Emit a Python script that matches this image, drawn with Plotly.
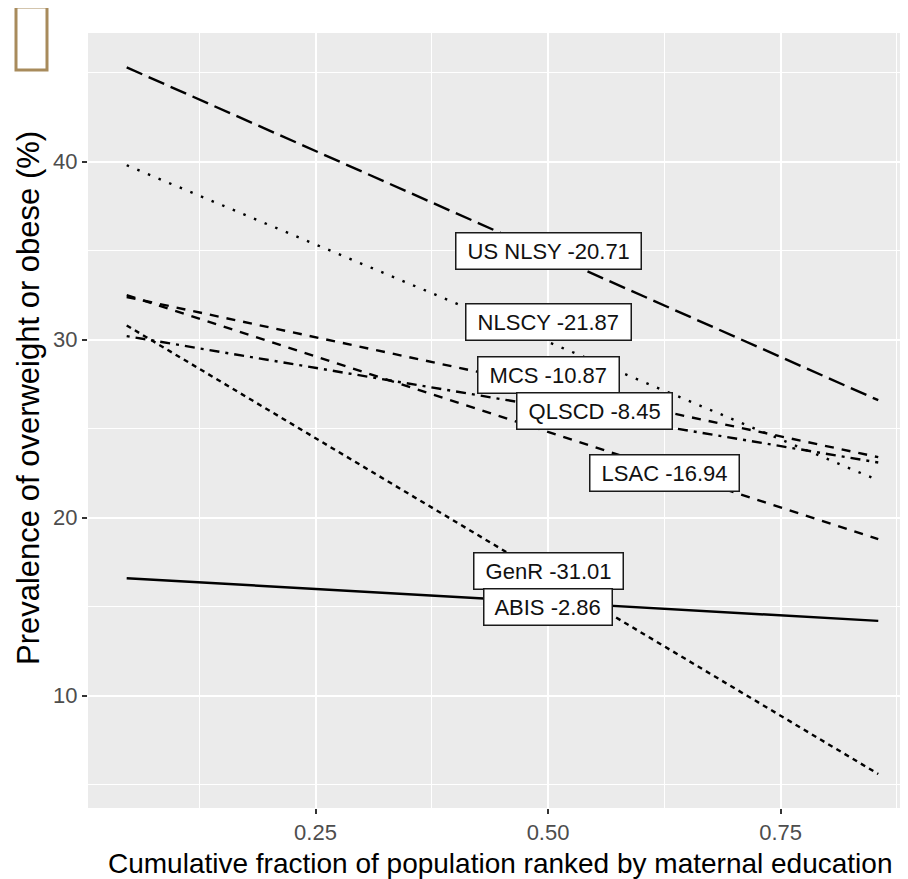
import plotly.graph_objects as go

# ---- data ----
cohorts = ["US NLSY", "NLSCY", "MCS", "LSAC", "QLSCD", "GenR", "ABIS"]
x_start = [0.047, 0.047, 0.047, 0.047, 0.047, 0.047, 0.047]
x_end = [0.855, 0.855, 0.855, 0.855, 0.855, 0.855, 0.855]
y_start = [45.3, 39.8, 32.4, 32.5, 30.2, 30.8, 16.6]
y_end = [26.6, 22.1, 23.4, 18.8, 23.1, 5.6, 14.2]
slopes = ["-20.71", "-21.87", "-10.87", "-16.94", "-8.45", "-31.01", "-2.86"]
label_x = [0.50, 0.50, 0.50, 0.625, 0.55, 0.50, 0.50]
label_y = [35.0, 31.0, 28.0, 22.5, 26.0, 17.0, 15.0]
x_ticks = [0.25, 0.50, 0.75]
x_tick_text = ["0.25", "0.50", "0.75"]
y_ticks = [10, 20, 30, 40]
y_tick_text = ["10", "20", "30", "40"]

dashes = {
    "US NLSY": "17px,7px",
    "NLSCY": "2.5px,9px",
    "MCS": "9px,8px",
    "LSAC": "9px,8px",
    "QLSCD": "3px,6px,10px,6px",
    "GenR": "5px,4.5px",
    "ABIS": "solid",
}

# page body has an 8px margin; work in screenshot pixels and shift
OFF = 8
W, H = 908 - OFF, 879 - OFF
L, R, T, B = 88 - OFF, 0, 33 - OFF, 879 - 808
FONT = "Liberation Sans, Arial, sans-serif"

fig = go.Figure()
for i, c in enumerate(cohorts):
    fig.add_trace(go.Scatter(
        x=[x_start[i], x_end[i]], y=[y_start[i], y_end[i]],
        mode="lines", line=dict(color="black", width=2.4, dash=dashes[c]),
        showlegend=False, hoverinfo="skip"))

for i, c in enumerate(cohorts):
    fig.add_annotation(
        x=label_x[i], y=label_y[i], xref="x", yref="y",
        text=" " + c + " " + slopes[i] + " ", showarrow=False,
        font=dict(family=FONT, size=22, color="#111111"),
        bgcolor="white", bordercolor="#1a1a1a", borderwidth=1.5, borderpad=5)

pw = W - L - R
ph = H - T - B
def px_x(p):
    return (p - OFF - L) / pw
def px_y(p):
    return (H - B - (p - OFF)) / ph

fig.add_annotation(
    x=px_x(28), y=px_y(398), xref="paper", yref="paper",
    text="Prevalence of overweight or obese (%)", textangle=-90,
    showarrow=False, font=dict(family=FONT, size=31, color="black"),
    xanchor="center", yanchor="middle")

fig.add_annotation(
    x=px_x(500), y=px_y(846), xref="paper", yref="paper",
    text="Cumulative fraction of population ranked by maternal education",
    showarrow=False, font=dict(family=FONT, size=28, color="black"),
    xanchor="center", yanchor="top")

# stray outlined rectangle in top-left corner
fig.add_shape(type="rect", xref="paper", yref="paper",
              x0=px_x(16), x1=px_x(47), y0=px_y(70), y1=px_y(7),
              line=dict(color="#A88B5C", width=3), fillcolor="rgba(0,0,0,0)")

fig.update_layout(
    width=W, height=H,
    margin=dict(l=L, r=R, t=T, b=B, pad=0),
    plot_bgcolor="#EBEBEB", paper_bgcolor="white",
    font=dict(family=FONT),
)
fig.update_xaxes(
    range=[0.0054, 0.887], tickvals=x_ticks, ticktext=x_tick_text,
    showgrid=True, gridcolor="white", gridwidth=1.6, zeroline=False,
    ticks="outside", ticklen=5, tickwidth=1.5, tickcolor="#333333",
    tickfont=dict(family=FONT, size=22, color="#4D4D4D"),
    minor=dict(tick0=0.125, dtick=0.25, showgrid=True, gridcolor="white",
               gridwidth=0.8, ticklen=0),
    showline=False)
fig.update_yaxes(
    range=[3.69, 47.23], tickvals=y_ticks, ticktext=y_tick_text,
    showgrid=True, gridcolor="white", gridwidth=1.6, zeroline=False,
    ticks="outside", ticklen=5, tickwidth=1.5, tickcolor="#333333",
    tickfont=dict(family=FONT, size=22, color="#4D4D4D"),
    minor=dict(tick0=5, dtick=10, showgrid=True, gridcolor="white",
               gridwidth=0.8, ticklen=0),
    showline=False)

fig.write_html("out.html")
